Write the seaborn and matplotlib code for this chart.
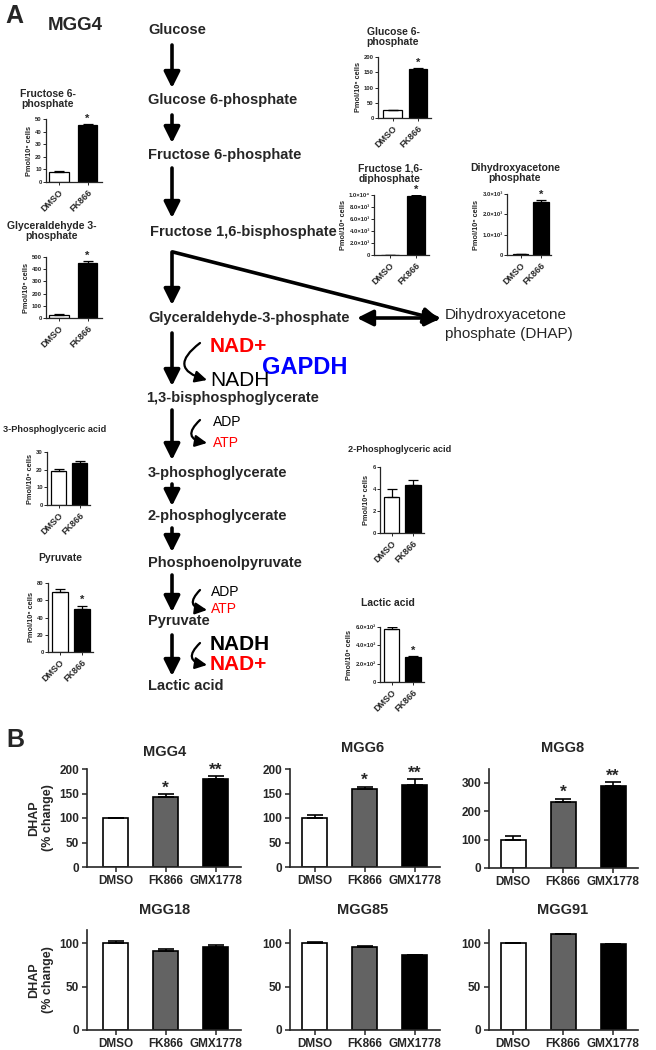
import numpy as np
import pandas as pd
import matplotlib
matplotlib.use('Agg')
import matplotlib.pyplot as plt
import seaborn as sns

# ---------------- data ----------------
groups2 = ['DMSO', 'FK866']
groups3 = ['DMSO', 'FK866', 'GMX1778']

f6p_mean = [8, 45];        f6p_err = [0.6, 0.7];     f6p_star = ['', '*']
ga3p_mean = [28, 450];     ga3p_err = [3, 15];       ga3p_star = ['', '*']
g6p_mean = [25, 160];      g6p_err = [2, 3];         g6p_star = ['', '*']
f16bp_mean = [60, 9800];   f16bp_err = [5, 120];     f16bp_star = ['', '*']
dhapA_mean = [60, 2600];   dhapA_err = [10, 100];    dhapA_star = ['', '*']
pg3_mean = [19, 24];       pg3_err = [1.2, 1.0];     pg3_star = ['', '']
pg2_mean = [3.3, 4.4];     pg2_err = [0.7, 0.4];     pg2_star = ['', '']
pyr_mean = [69, 50];       pyr_err = [4, 3];         pyr_star = ['', '*']
lac_mean = [580, 275];     lac_err = [15, 12];       lac_star = ['', '*']

f6p_ticks = [0, 10, 20, 30, 40, 50]
ga3p_ticks = [0, 100, 200, 300, 400, 500]
g6p_ticks = [0, 50, 100, 150, 200]
f16bp_ticks = [0, 2000, 4000, 6000, 8000, 10000]
f16bp_labels = ['0', '2.0×10³', '4.0×10³', '6.0×10³', '8.0×10³', '1.0×10⁴']
dhapA_ticks = [0, 1000, 2000, 3000]
dhapA_labels = ['0', '1.0×10³', '2.0×10³', '3.0×10³']
pg3_ticks = [0, 10, 20, 30]
pg2_ticks = [0, 2, 4, 6]
pyr_ticks = [0, 20, 40, 60, 80]
lac_ticks = [0, 200, 400, 600]
lac_labels = ['0', '2.0×10²', '4.0×10²', '6.0×10²']

mgg4_mean = [100, 143, 179];  mgg4_err = [1, 6, 6];      mgg4_star = ['', '*', '**']
mgg6_mean = [100, 159, 167];  mgg6_err = [7, 5, 12];     mgg6_star = ['', '*', '**']
mgg8_mean = [100, 233, 290];  mgg8_err = [12, 12, 14];   mgg8_star = ['', '*', '**']
mgg18_mean = [100, 91, 96];   mgg18_err = [2, 2, 1.5];   mgg18_star = ['', '', '']
mgg85_mean = [100, 96, 86];   mgg85_err = [1, 0.5, 0.3]; mgg85_star = ['', '', '']
mgg91_mean = [100, 110, 99];  mgg91_err = [0.4, 0.3, 0.3]; mgg91_star = ['', '', '']

# ---------------- setup ----------------
sns.set_style('ticks')
plt.rcParams['font.family'] = ['Liberation Sans', 'DejaVu Sans']

W, H = 656, 1050
fig = plt.figure(figsize=(W / 100, H / 100), dpi=100)
ax0 = fig.add_axes([0, 0, 1, 1])
ax0.set_xlim(0, W)
ax0.set_ylim(H, 0)
ax0.axis('off')


def px_axes(left, right, top, bottom):
    ax = fig.add_axes([left / W, 1 - bottom / H, (right - left) / W, (bottom - top) / H])
    ax.set_facecolor('none')
    return ax


def bars(ax, cats, means, errs, stars, palette, width, ymax, ticks, labels,
         lw, elw, cap, starsize, staroff):
    df = pd.DataFrame({'group': cats, 'value': means})
    sns.barplot(data=df, x='group', y='value', hue='group', order=cats,
                hue_order=cats, palette=palette, width=width, edgecolor='black',
                linewidth=lw, legend=False, errorbar=None, ax=ax)
    n = len(cats)
    ax.errorbar(np.arange(n), means, yerr=[np.zeros(n), errs], fmt='none',
                ecolor='black', elinewidth=elw, capsize=cap, capthick=elw, zorder=1)
    for i, s in enumerate(stars):
        if s:
            ax.text(i, means[i] + errs[i] + staroff * ymax, s, ha='center',
                    va='center', fontsize=starsize, fontweight='bold')
    ax.set_ylim(0, ymax)
    ax.set_yticks(ticks)
    ax.set_yticklabels(labels if labels is not None else [str(t) for t in ticks],
                       fontweight='bold')
    ax.set_xlabel('')
    sns.despine(ax=ax)
    for sp in ax.spines.values():
        sp.set_linewidth(lw)


def mini(spine, c0, s, top, bottom, cats, means, errs, stars, ymax, ticks, labels=None,
         width=0.7):
    right = c0 + 1.5 * s
    ax = px_axes(spine, right, top, bottom)
    bars(ax, cats, means, errs, stars, ['white', 'black'], width, ymax, ticks, labels,
         0.9, 0.9, 3.5, 8, 0.09)
    ax.set_xlim(-(c0 - spine) / s, 1.5)
    ax.set_xticks(range(len(cats)))
    ax.set_xticklabels(cats, rotation=45, ha='right', rotation_mode='anchor',
                       fontsize=6.5, fontweight='bold')
    ax.tick_params(axis='y', labelsize=4.2, length=2, width=0.7, pad=1)
    ax.tick_params(axis='x', length=2, width=0.7, pad=2)
    ax.set_ylabel('Pmol/10⁶ cells', fontsize=5.3, fontweight='bold', labelpad=1.5)
    return ax


def big(spine, c0, s, top, bottom, cats, means, errs, stars, ymax, ticks, ylabel=False):
    right = c0 + 2.5 * s
    ax = px_axes(spine, right, top, bottom)
    bars(ax, cats, means, errs, stars, ['white', '#636363', 'black'], 0.5, ymax, ticks,
         None, 1.2, 1.2, 6, 12.5, 0.06)
    ax.set_xlim(-(c0 - spine) / s, 2.5)
    ax.set_xticks(range(len(cats)))
    ax.set_xticklabels(cats, fontsize=8.5, fontweight='bold')
    ax.tick_params(axis='both', labelsize=8.5, length=3.5, width=1.1, pad=2)
    ax.set_ylabel('DHAP\n(% change)' if ylabel else '', fontsize=9, fontweight='bold',
                  labelpad=4)
    return ax


# ---------------- panel A: pathway ----------------
ax0.text(5, 16, 'A', fontsize=18, fontweight='heavy', va='center', ha='left')
ax0.text(48, 26, 'MGG4', fontsize=13.5, fontweight='bold', va='center', ha='left')

path_txt = [('Glucose', 148, 30), ('Glucose 6-phosphate', 148, 100),
            ('Fructose 6-phosphate', 148, 155), ('Fructose 1,6-bisphosphate', 150, 232),
            ('Glyceraldehyde-3-phosphate', 148, 318), ('1,3-bisphosphoglycerate', 146, 398),
            ('3-phosphoglycerate', 148, 473), ('2-phosphoglycerate', 148, 516),
            ('Phosphoenolpyruvate', 148, 563), ('Pyruvate', 148, 621),
            ('Lactic acid', 148, 686)]
for t, x, y in path_txt:
    ax0.text(x, y, t, fontsize=10.5, fontweight='bold', ha='left', va='center')

ax0.text(445, 315, 'Dihydroxyacetone', fontsize=11, ha='left', va='center')
ax0.text(445, 334, 'phosphate (DHAP)', fontsize=11, ha='left', va='center')

arrow_kw = dict(arrowstyle='-|>,head_length=0.6,head_width=0.3', lw=2.6, color='black',
                shrinkA=0, shrinkB=0, mutation_scale=16)
for y1, y2 in [(45, 88), (115, 143), (168, 218), (252, 305), (333, 386), (410, 460),
               (484, 506), (528, 552), (575, 612), (635, 676)]:
    ax0.annotate('', xy=(172, y2), xytext=(172, y1), arrowprops=arrow_kw)
ax0.annotate('', xy=(440, 320), xytext=(173, 252), arrowprops=arrow_kw)
ax0.annotate('', xy=(441, 318), xytext=(357, 318),
             arrowprops=dict(arrowstyle='<|-|>,head_length=0.6,head_width=0.3', lw=2.6,
                             color='black', shrinkA=0, shrinkB=0, mutation_scale=16))

curve_kw = dict(arrowstyle='-|>,head_length=0.5,head_width=0.25', lw=1.6, color='black',
                shrinkA=0, shrinkB=0, mutation_scale=14, connectionstyle='arc3,rad=1.0')
for y1, y2 in [(343, 380), (420, 443), (590, 610), (643, 665)]:
    ax0.annotate('', xy=(207, y2), xytext=(200, y1), arrowprops=curve_kw)

ax0.text(210, 346, 'NAD+', color='#FF0000', fontsize=15, fontweight='bold', va='center')
ax0.text(262, 368, 'GAPDH', color='#0000FF', fontsize=17, fontweight='bold', va='center')
ax0.text(210, 381, 'NADH', color='black', fontsize=15, va='center')
ax0.text(213, 422, 'ADP', color='black', fontsize=10, va='center')
ax0.text(213, 443, 'ATP', color='#FF0000', fontsize=10, va='center')
ax0.text(211, 592, 'ADP', color='black', fontsize=10, va='center')
ax0.text(211, 609, 'ATP', color='#FF0000', fontsize=10, va='center')
ax0.text(210, 644, 'NADH', color='black', fontsize=15, fontweight='bold', va='center')
ax0.text(210, 665, 'NAD+', color='#FF0000', fontsize=15, fontweight='bold', va='center')

# mini chart titles
mini_titles = [('Fructose 6-\nphosphate', 48, 99, 7.5),
               ('Glyceraldehyde 3-\nphosphate', 52, 231, 7.5),
               ('Glucose 6-\nphosphate', 393, 37, 7.5),
               ('Fructose 1,6-\ndiphosphate', 390, 174, 7.5),
               ('Dihydroxyacetone\nphosphate', 515, 173, 7.5),
               ('3-Phosphoglyceric acid', 55, 430, 6.6),
               ('Pyruvate', 60, 558, 7.5),
               ('2-Phosphoglyceric acid', 400, 450, 6.6),
               ('Lactic acid', 388, 603, 7.5)]
for t, x, y, fs in mini_titles:
    ax0.text(x, y, t, fontsize=fs, fontweight='bold', ha='center', va='center',
             linespacing=1.05)

mini(46, 59, 28.5, 119, 182, groups2, f6p_mean, f6p_err, f6p_star, 50, f6p_ticks)
mini(46, 59, 28.5, 257, 318, groups2, ga3p_mean, ga3p_err, ga3p_star, 500, ga3p_ticks)
mini(378, 392.5, 25.5, 57, 118, groups2, g6p_mean, g6p_err, g6p_star, 200, g6p_ticks,
     width=0.73)
mini(374, 390, 26, 195, 255, groups2, f16bp_mean, f16bp_err, f16bp_star, 10000,
     f16bp_ticks, f16bp_labels, width=0.72)
mini(507, 520.5, 20.5, 194, 255, groups2, dhapA_mean, dhapA_err, dhapA_star, 3000,
     dhapA_ticks, dhapA_labels, width=0.76)
mini(47, 58.5, 21, 452, 505, groups2, pg3_mean, pg3_err, pg3_star, 30, pg3_ticks,
     width=0.72)
mini(48, 60, 22, 583, 652, groups2, pyr_mean, pyr_err, pyr_star, 80, pyr_ticks,
     width=0.75)
mini(380, 391.5, 21.5, 467, 533, groups2, pg2_mean, pg2_err, pg2_star, 6, pg2_ticks,
     width=0.72)
mini(380, 391.5, 21.5, 627, 682, groups2, lac_mean, lac_err, lac_star, 600, lac_ticks,
     lac_labels, width=0.72)

# ---------------- panel B ----------------
ax0.text(6, 740, 'B', fontsize=18, fontweight='heavy', va='center', ha='left')
b_titles = [('MGG4', 165, 752), ('MGG6', 363, 748), ('MGG8', 563, 748),
            ('MGG18', 165, 910), ('MGG85', 363, 910), ('MGG91', 563, 910)]
for t, x, y in b_titles:
    ax0.text(x, y, t, fontsize=10.5, fontweight='bold', ha='center', va='center')

big(87, 115.5, 50, 769, 867, groups3, mgg4_mean, mgg4_err, mgg4_star, 200,
    [0, 50, 100, 150, 200], ylabel=True)
big(290, 314.5, 50, 769, 867, groups3, mgg6_mean, mgg6_err, mgg6_star, 200,
    [0, 50, 100, 150, 200])
big(489, 513, 50, 768.8, 868, groups3, mgg8_mean, mgg8_err, mgg8_star, 350,
    [0, 100, 200, 300])
big(87, 115.5, 50, 930, 1030, groups3, mgg18_mean, mgg18_err, mgg18_star, 115,
    [0, 50, 100], ylabel=True)
big(290, 314.5, 50, 930, 1030, groups3, mgg85_mean, mgg85_err, mgg85_star, 115,
    [0, 50, 100])
big(489, 513, 50, 930, 1030, groups3, mgg91_mean, mgg91_err, mgg91_star, 115,
    [0, 50, 100])

fig.savefig('out.png', dpi=100)
